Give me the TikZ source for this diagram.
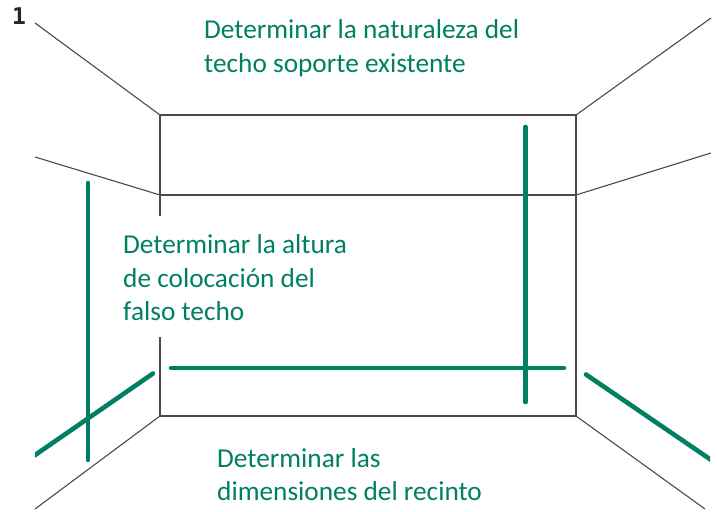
\documentclass[tikz,border=0pt]{standalone}
\usepackage{fontspec}
\setmainfont{Carlito}
\newfontfamily\numfont{DejaVu Sans Mono}
\definecolor{marca}{HTML}{007F62}
\definecolor{pared}{HTML}{4A4A4A}
\tikzset{
  pared/.style={draw=pared,line width=1.3pt},
  marca/.style={draw=marca,line width=4.6pt,line cap=round},
  nota/.style={text=marca,anchor=north west,align=left,inner sep=0pt,font=\fontsize{27.3}{33.5}\selectfont}
}
\begin{document}
\begin{tikzpicture}[x=1pt,y=-1pt]
        \useasboundingbox (0,0) rectangle (717,511);

        % corners of the room
        \coordinate (tl) at (160,115);
        \coordinate (tr) at (576,115);
        \coordinate (bl) at (160,416);
        \coordinate (br) at (576,416);
        \coordinate (cl) at (160,195);
        \coordinate (cr) at (576,195);
        \coordinate (gapa) at (160,216);
        \coordinate (gapb) at (160,337);

        % free ends of the walls
        \coordinate (tlo) at (35,23);
        \coordinate (tro) at (711,18);
        \coordinate (clo) at (35,157);
        \coordinate (cro) at (711,153);
        \coordinate (blo) at (35,509);
        \coordinate (bro) at (705,509);

        % draw walls
        \draw[pared] (gapa) -- (tl) -- (tr) -- (br) -- (bl) -- (gapb);
        \draw[pared] (cl) -- (cr);
        \foreach \a/\b in {tl/tlo,tr/tro,cl/clo,cr/cro,bl/blo,br/bro}
          \draw[pared,line width=1.1pt] (\a) -- (\b);

        % green marks
        \coordinate (va) at (88,183);
        \coordinate (vb) at (88,460);
        \coordinate (vc) at (525.5,127);
        \coordinate (vd) at (525.5,402);
        \coordinate (ha) at (171,368);
        \coordinate (hb) at (564,368);
        \coordinate (la) at (153,373.5);
        \coordinate (lb) at (25,462);
        \coordinate (ra) at (586,374.5);
        \coordinate (rb) at (720,466);
        \draw[marca] (va) -- (vb);
        \draw[marca] (vc) -- (vd);
        \draw[marca] (ha) -- (hb);
        \begin{scope}
          \clip (35,0) rectangle (710,511);
          \draw[marca] (la) -- (lb);
          \draw[marca] (ra) -- (rb);
        \end{scope}

        % draw labels
        \node[anchor=north west,inner sep=0pt,font=\fontsize{23}{25}\selectfont\numfont\bfseries,text=black!85] (num) at (12,8) {1};
        \node[nota] (techo) at (204,19.5) {Determinar la naturaleza del\\techo soporte existente};
        \node[nota] (altura) at (123,234.5) {Determinar la altura\\de colocación del\\falso techo};
        \node[nota] (recinto) at (217,448) {Determinar las\\dimensiones del recinto};
\end{tikzpicture}
\end{document}
